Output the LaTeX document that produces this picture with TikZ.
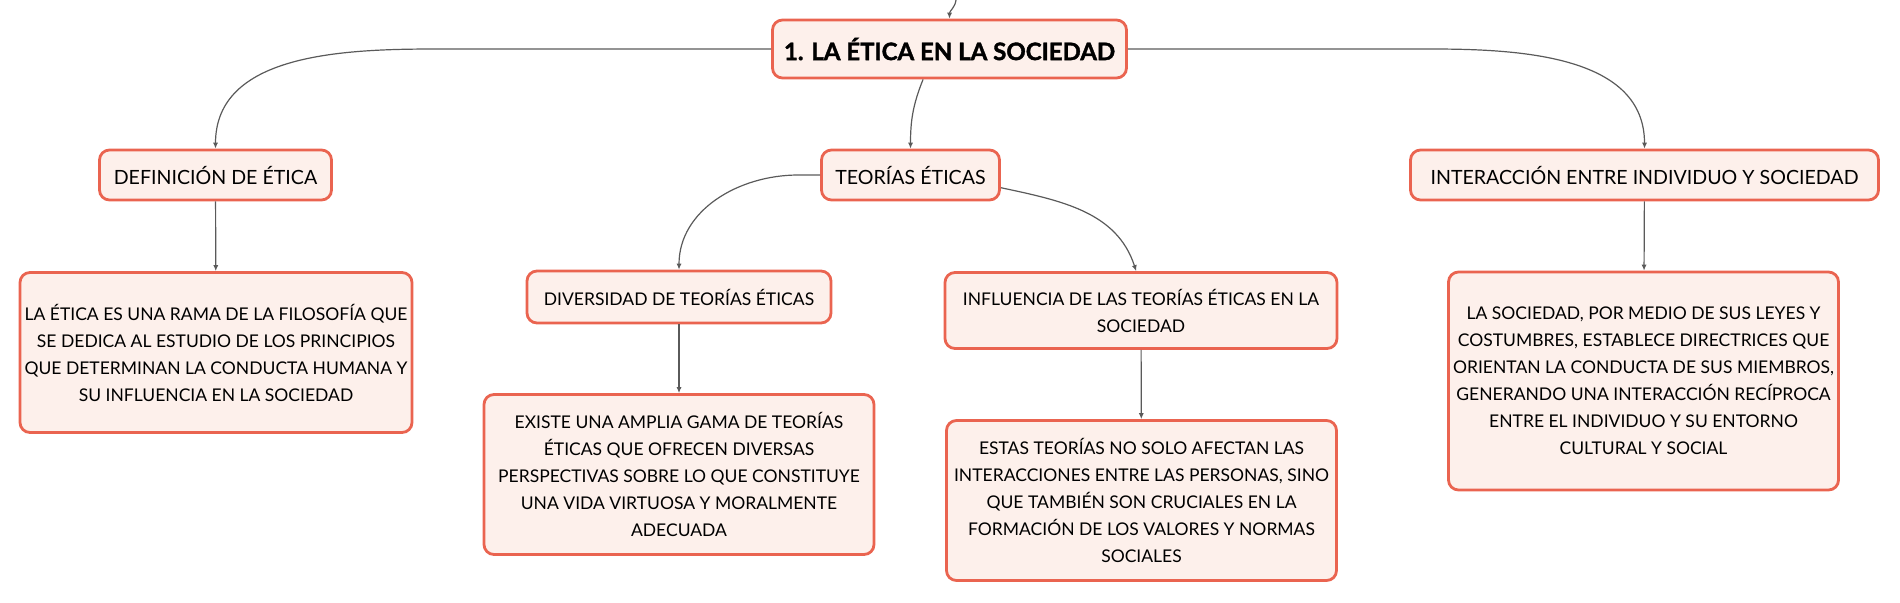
\documentclass[tikz,border=0pt]{standalone}
\usepackage{fontspec}
\setmainfont{Lato}[BoldFeatures={FakeBold=1.6}]
\usepackage{xcolor}
\usepackage{tikz}
\usetikzlibrary{positioning,arrows.meta}
\definecolor{boxred}{HTML}{EA6450}
\definecolor{boxfill}{HTML}{FDF0EB}
\definecolor{linegray}{HTML}{5A5A5A}
\tikzset{
  mybox/.style={draw=boxred,fill=boxfill,line width=1.4pt,rounded corners=5pt,
    align=center,inner sep=2pt,font=\fontsize{9.8}{13.5}\selectfont},
  mytitle/.style={mybox,font=\fontsize{12}{14}\selectfont\bfseries},
  mytext/.style={mybox,font=\fontsize{8.75}{13.5}\selectfont},
  route/.style={-{Latex[length=3pt,width=2.6pt]},draw=linegray,line width=0.6pt}
}

\begin{document}
\begin{tikzpicture}[x=0.5pt,y=-0.5pt]
  \useasboundingbox (0,0) rectangle (1900,602);
  \node[mytitle,minimum width=177pt,minimum height=29pt] (root) at (949.5,49) {1. LA ÉTICA EN LA SOCIEDAD};
  \node[mybox,minimum width=116pt,minimum height=25pt] (def) at (215.5,175) {DEFINICIÓN DE ÉTICA};
  \node[mybox,minimum width=89pt,minimum height=25pt] (teo) at (910.5,175) {TEORÍAS ÉTICAS};
  \node[mybox,minimum width=234pt,minimum height=25pt] (inter) at (1644.5,175) {INTERACCIÓN ENTRE INDIVIDUO Y SOCIEDAD};
  \node[mytext,minimum width=196pt,minimum height=80pt] (etica) at (216,352.5)
    {LA ÉTICA ES UNA RAMA DE LA FILOSOFÍA QUE\\ SE DEDICA AL ESTUDIO DE LOS PRINCIPIOS\\
     QUE DETERMINAN LA CONDUCTA HUMANA Y\\ SU INFLUENCIA EN LA SOCIEDAD};
  \node[mytext,minimum width=152pt,minimum height=26pt] (div) at (679,297) {DIVERSIDAD DE TEORÍAS ÉTICAS};
  \node[mytext,minimum width=196pt,minimum height=38pt] (infl) at (1141,310.5)
    {INFLUENCIA DE LAS TEORÍAS ÉTICAS EN LA\\ SOCIEDAD};
  \node[mytext,minimum width=195pt,minimum height=80pt] (existe) at (679,474.5)
    {EXISTE UNA AMPLIA GAMA DE TEORÍAS\\ ÉTICAS QUE OFRECEN DIVERSAS\\
     PERSPECTIVAS SOBRE LO QUE CONSTITUYE\\ UNA VIDA VIRTUOSA Y MORALMENTE\\ ADECUADA};
  \node[mytext,minimum width=195pt,minimum height=80pt] (estas) at (1141.5,500.5)
    {ESTAS TEORÍAS NO SOLO AFECTAN LAS\\ INTERACCIONES ENTRE LAS PERSONAS, SINO\\
     QUE TAMBIÉN SON CRUCIALES EN LA\\ FORMACIÓN DE LOS VALORES Y NORMAS\\ SOCIALES};
  \node[mytext,minimum width=195pt,minimum height=109pt] (soc) at (1643.5,381)
    {LA SOCIEDAD, POR MEDIO DE SUS LEYES Y\\ COSTUMBRES, ESTABLECE DIRECTRICES QUE\\
     ORIENTAN LA CONDUCTA DE SUS MIEMBROS,\\ GENERANDO UNA INTERACCIÓN RECÍPROCA\\
     ENTRE EL INDIVIDUO Y SU ENTORNO\\ CULTURAL Y SOCIAL};
  \coordinate (up) at (956,0);
  % links from the title
  \draw[route] (up) to[out=-97,in=90] (root.north);
  \draw[route] (root.west) -- ++(-336,0) to[out=180,in=90] (def.north);
  \draw[route] (root.229) to[out=-112,in=90] (teo.north);
  \draw[route] (root.east) -- ++(304,0) to[out=0,in=90] (inter.north);
  % second level
  \draw[route] (teo.west) -- ++(-22,0) to[out=180,in=90] (div.north);
  \draw[route] (teo.-8) to[out=-12,in=108] (infl.97);
  \draw[route] (def) -- (etica);
  \draw[route] (div) -- (existe);
  \draw[route] (infl) -- (estas);
  \draw[route] (inter) -- (soc);
\end{tikzpicture}
\end{document}
